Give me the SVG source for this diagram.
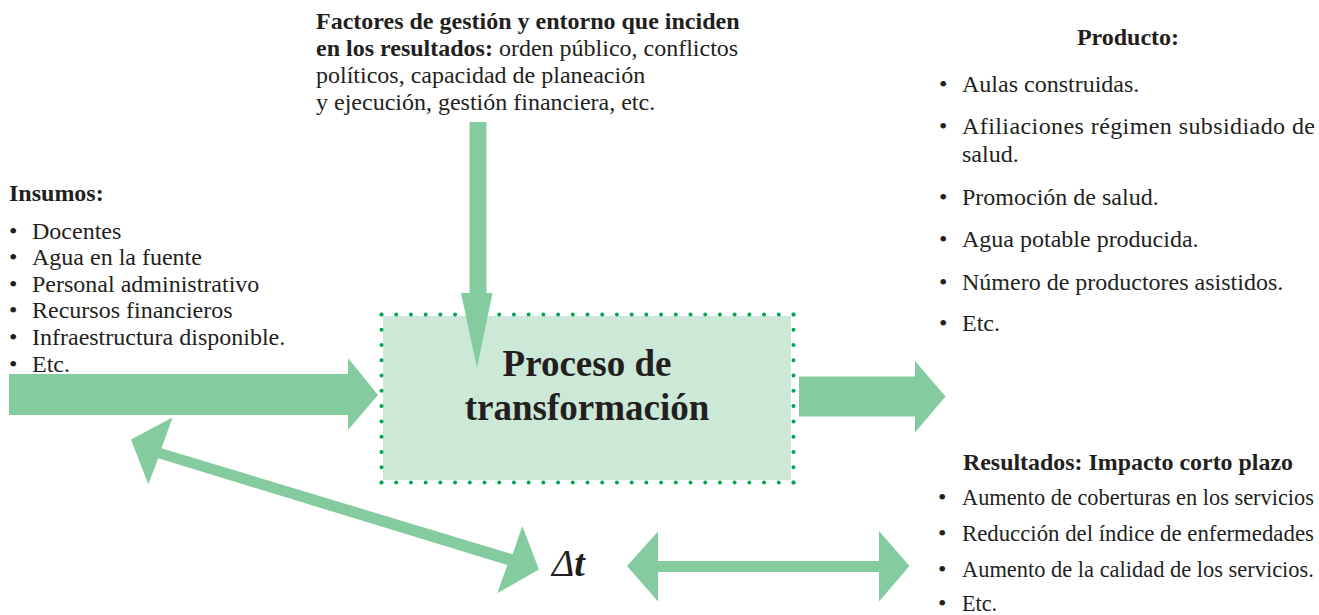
<svg xmlns="http://www.w3.org/2000/svg" width="1319" height="615" viewBox="0 0 1319 615">
<style>
text{font-family:"Liberation Serif","Times New Roman",serif;fill:#231f20;font-size:24px}
.b{font-weight:bold}
.big{font-size:37px;font-weight:bold}
.dt{font-size:38px;font-style:italic}
.arrow{fill:#84cc9f}
.dots{fill:none;stroke:#00a651;stroke-width:4;stroke-linecap:round}
</style>
<rect width="1319" height="615" fill="#ffffff"/>
<g id="proceso">
<rect x="383" y="316" width="408" height="164" fill="#cce8d6"/>
<path class="dots" d="M381.5 314.5H793.5M381.5 482.5H793.5" stroke-dasharray="0 14.714"/>
<path class="dots" d="M381.5 314.5V482.5M793.5 314.5V482.5" stroke-dasharray="0 15.27"/>
<text class="big" x="587" y="376" text-anchor="middle">Proceso de</text>
<text class="big" x="587" y="420" text-anchor="middle">transformación</text>
</g>
<g id="factores">
<text x="316" y="29"><tspan class="b">Factores de gestión y entorno que inciden</tspan></text>
<text x="316" y="56"><tspan class="b">en los resultados:</tspan> orden público, conflictos</text>
<text x="316" y="83">políticos, capacidad de planeación</text>
<text x="316" y="110">y ejecución, gestión financiera, etc.</text>
</g>
<g id="insumos">
<text class="b" x="9" y="201">Insumos:</text>
<text x="9" y="238.5">•</text><text x="32" y="238.5">Docentes</text>
<text x="9" y="265">•</text><text x="32" y="265">Agua en la fuente</text>
<text x="9" y="291.7">•</text><text x="32" y="291.7">Personal administrativo</text>
<text x="9" y="318.4">•</text><text x="32" y="318.4">Recursos financieros</text>
<text x="9" y="345">•</text><text x="32" y="345">Infraestructura disponible.</text>
<text x="9" y="371.5">•</text><text x="32" y="371.5">Etc.</text>
</g>
<g id="producto">
<text class="b" x="1128" y="45" text-anchor="middle">Producto:</text>
<text x="939" y="92">•</text><text x="962" y="92">Aulas construidas.</text>
<text x="939" y="134">•</text><text x="962" y="134" textLength="353">Afiliaciones régimen subsidiado de</text>
<text x="962" y="162">salud.</text>
<text x="939" y="205">•</text><text x="962" y="205">Promoción de salud.</text>
<text x="939" y="247">•</text><text x="962" y="247">Agua potable producida.</text>
<text x="939" y="290">•</text><text x="962" y="290">Número de productores asistidos.</text>
<text x="939" y="331">•</text><text x="962" y="331">Etc.</text>
</g>
<g id="resultados">
<text class="b" transform="translate(963 470) scale(0.927 1)" x="0" y="0" textLength="356" lengthAdjust="spacingAndGlyphs">Resultados: Impacto corto plazo</text>
<text x="938" y="505">•</text><text transform="translate(962 505) scale(0.926 1)" x="0" y="0" textLength="380" lengthAdjust="spacingAndGlyphs">Aumento de coberturas en los servicios</text>
<text x="938" y="541">•</text><text transform="translate(962 541) scale(0.926 1)" x="0" y="0" textLength="380" lengthAdjust="spacingAndGlyphs">Reducción del índice de enfermedades</text>
<text x="938" y="577">•</text><text transform="translate(962 577) scale(0.926 1)" x="0" y="0" textLength="380" lengthAdjust="spacingAndGlyphs">Aumento de la calidad de los servicios.</text>
<text x="938" y="611">•</text><text transform="translate(962 611) scale(0.926 1)" x="0" y="0">Etc.</text>
</g>
<g id="delta-t">
<text class="dt" x="552" y="576">Δ<tspan class="b">t</tspan></text>
</g>
<g id="connectors">
<polygon class="arrow" points="9,374 348,374 348,358 378,395 348,430 348,415 9,415"/>
<polygon class="arrow" points="469.5,122 486.5,122 486.5,293 492.5,293 477,368 461,293 469.5,293"/>
<polygon class="arrow" points="799,376.5 915,376.5 915,361 945.5,396.5 915,432.5 915,416.5 799,416.5"/>
<polygon class="arrow" points="627,566 658,531.5 658,561 879,561 879,531 909.5,566 879,601.5 879,572 658,572 658,601.5"/>
<polygon class="arrow" points="131,439.5 172.5,417.5 161.5,448.3 512.7,554.3 522.3,526 539,569.5 497.3,593.3 507.3,565 158.3,458.3 148.3,484.3"/>
</g>
</svg>
